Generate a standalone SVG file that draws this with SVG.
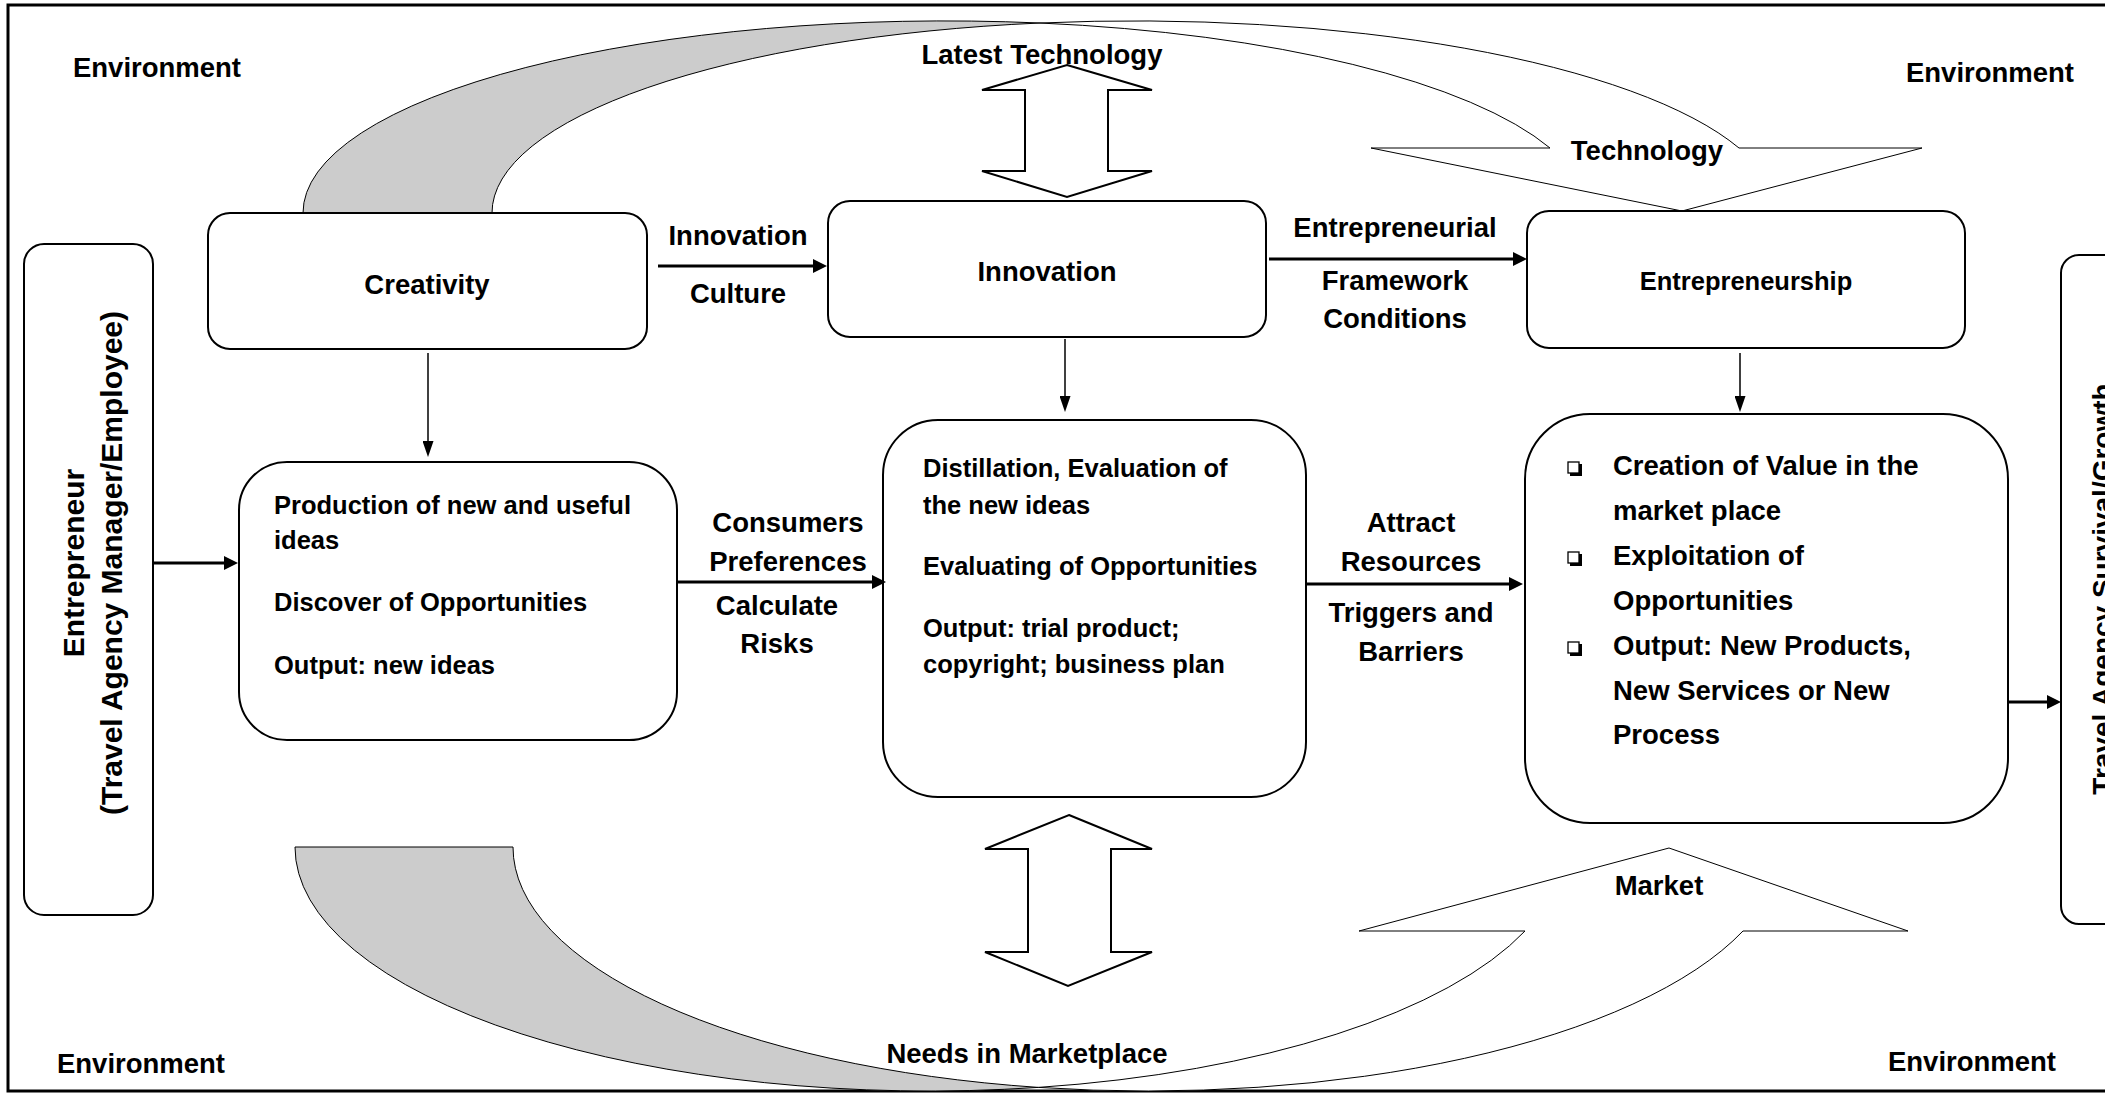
<svg xmlns="http://www.w3.org/2000/svg" width="2105" height="1093" viewBox="0 0 2105 1093">
  <defs>
    <style>
      .box { fill: #fff; stroke: #000; stroke-width: 2; }
      .t { font-family: "Liberation Sans", Arial, sans-serif; font-weight: bold; fill: #000; }
      .lbl { font-size: 27.5px; text-anchor: middle; }
      .body { font-size: 25.5px; }
      .big { font-size: 27.5px; }
      .vert { font-size: 30px; text-anchor: middle; }
      .back { fill: #cccccc; stroke: #000; stroke-width: 1; }
      .front { fill: #fff; stroke: #000; stroke-width: 1; }
      .dbl { fill: #fff; stroke: #000; stroke-width: 2; }
      .h { stroke: #000; stroke-width: 3; fill: none; marker-end: url(#ah); }
      .v { stroke: #000; stroke-width: 1.5; fill: none; marker-end: url(#av); }
      .bul { fill: #fff; stroke: #000; stroke-width: 1.3; }
    </style>
    <marker id="ah" markerUnits="userSpaceOnUse" markerWidth="14" markerHeight="14" refX="6" refY="7" orient="auto">
      <path d="M0,0 L14,7 L0,14 Z" fill="#000"/>
    </marker>
    <marker id="av" markerUnits="userSpaceOnUse" markerWidth="16" markerHeight="11" refX="6" refY="5.5" orient="auto">
      <path d="M0,0 L16,5.5 L0,11 Z" fill="#000"/>
    </marker>
  </defs>

  <rect width="2105" height="1093" fill="#fff"/>
  <!-- outer frame -->
  <rect x="8" y="5" width="2200" height="1086" fill="none" stroke="#000" stroke-width="3"/>

  <!-- curved ribbon arrow over the top: Creativity -> Technology -> Entrepreneurship -->
  <g id="technology-arrow">
    <path class="back" d="M303,213 A642.4,192 0 0 1 1040,23 A642.4,192 0 0 0 492,213 Z"/>
    <path class="front" d="M1040,23 A642.4,192 0 0 1 1739,148 L1922,148 L1682,211 L1371,148 L1550,148 A642.4,192 0 0 0 1040,23 Z"/>
    <text class="t lbl" x="1647" y="160">Technology</text>
  </g>

  <!-- curved ribbon arrow along the bottom: Market -->
  <g id="market-arrow">
    <path class="back" d="M295,847 A634.4,244 0 0 0 1038.4,1087.4 A634.4,244 0 0 1 513,847 Z"/>
    <path class="front" d="M1038.4,1087.4 A634.4,244 0 0 0 1525,931 L1359,931 L1669,848 L1908,931 L1743,931 A634.4,244 0 0 1 1038.4,1087.4 Z"/>
    <text class="t lbl" x="1659" y="895">Market</text>
  </g>

  <!-- double block arrows -->
  <g id="latest-technology">
    <polygon class="dbl" points="1067,65 1152,90 1108,90 1108,171 1152,171 1067,197 982,171 1025,171 1025,90 982,90"/>
    <text class="t lbl" x="1042" y="64">Latest Technology</text>
  </g>
  <g id="needs-in-marketplace">
    <polygon class="dbl" points="1069,815 1152,849 1111,849 1111,952 1152,952 1068,986 985,952 1028,952 1028,849 985,849"/>
    <text class="t lbl" x="1027" y="1063">Needs in Marketplace</text>
  </g>

  <!-- environment corner labels -->
  <g id="environment">
    <text class="t lbl" x="157" y="77">Environment</text>
    <text class="t lbl" x="1990" y="82">Environment</text>
    <text class="t lbl" x="141" y="1073">Environment</text>
    <text class="t lbl" x="1972" y="1071">Environment</text>
  </g>

  <!-- nodes -->
  <g id="entrepreneur">
    <rect class="box" x="24" y="244" width="129" height="671" rx="20"/>
    <text class="t vert" transform="translate(84,563) rotate(-90)">Entrepreneur</text>
    <text class="t vert" transform="translate(122,563) rotate(-90)">(Travel Agency Manager/Employee)</text>
  </g>

  <g id="creativity">
    <rect class="box" x="208" y="213" width="439" height="136" rx="22"/>
    <text class="t lbl" x="427" y="294">Creativity</text>
  </g>

  <g id="innovation">
    <rect class="box" x="828" y="201" width="438" height="136" rx="22"/>
    <text class="t lbl" x="1047" y="281">Innovation</text>
  </g>

  <g id="entrepreneurship">
    <rect class="box" x="1527" y="211" width="438" height="137" rx="22"/>
    <text class="t lbl" x="1746" y="290" style="font-size:25.5px">Entrepreneurship</text>
  </g>

  <g id="idea-generation">
    <rect class="box" x="239" y="462" width="438" height="278" rx="48"/>
    <text class="t body" x="274" y="514">Production of new and useful</text>
    <text class="t body" x="274" y="549">ideas</text>
    <text class="t body" x="274" y="611">Discover of Opportunities</text>
    <text class="t body" x="274" y="674">Output: new ideas</text>
  </g>

  <g id="idea-evaluation">
    <rect class="box" x="883" y="420" width="423" height="377" rx="55"/>
    <text class="t body" x="923" y="477">Distillation, Evaluation of</text>
    <text class="t body" x="923" y="514">the new ideas</text>
    <text class="t body" x="923" y="575">Evaluating of Opportunities</text>
    <text class="t body" x="923" y="637">Output: trial product;</text>
    <text class="t body" x="923" y="673">copyright; business plan</text>
  </g>

  <g id="value-creation">
    <rect class="box" x="1525" y="414" width="483" height="409" rx="65"/>
    <rect x="1570" y="464" width="12" height="12" fill="#000"/>
    <rect class="bul" x="1568" y="462" width="11" height="11"/>
    <rect x="1570" y="554" width="12" height="12" fill="#000"/>
    <rect class="bul" x="1568" y="552" width="11" height="11"/>
    <rect x="1570" y="644" width="12" height="12" fill="#000"/>
    <rect class="bul" x="1568" y="642" width="11" height="11"/>
    <text class="t big" x="1613" y="475">Creation of Value in the</text>
    <text class="t big" x="1613" y="520">market place</text>
    <text class="t big" x="1613" y="565">Exploitation of</text>
    <text class="t big" x="1613" y="610">Opportunities</text>
    <text class="t big" x="1613" y="655">Output: New Products,</text>
    <text class="t big" x="1613" y="700">New Services or New</text>
    <text class="t big" x="1613" y="744">Process</text>
  </g>

  <g id="survival-growth">
    <rect class="box" x="2061" y="255" width="140" height="669" rx="18"/>
    <text class="t vert" style="font-size:28px" transform="translate(2112,589) rotate(-90)">Travel Agency Survival/Growth</text>
  </g>

  <!-- connectors -->
  <g id="connectors">
    <line class="h" x1="153" y1="563" x2="230" y2="563"/>
    <line class="h" x1="658" y1="266" x2="819" y2="266"/>
    <line class="h" x1="1269" y1="259" x2="1519" y2="259"/>
    <line class="h" x1="677" y1="582" x2="878" y2="582"/>
    <line class="h" x1="1307" y1="584" x2="1515" y2="584"/>
    <line class="h" x1="2009" y1="702" x2="2053" y2="702"/>
    <line class="v" x1="428" y1="353" x2="428" y2="447"/>
    <line class="v" x1="1065" y1="339" x2="1065" y2="402"/>
    <line class="v" x1="1740" y1="353" x2="1740" y2="402"/>
  </g>

  <!-- connector labels -->
  <g id="connector-labels">
    <text class="t lbl" x="738" y="245">Innovation</text>
    <text class="t lbl" x="738" y="303">Culture</text>
    <text class="t lbl" x="1395" y="237">Entrepreneurial</text>
    <text class="t lbl" x="1395" y="290">Framework</text>
    <text class="t lbl" x="1395" y="328">Conditions</text>
    <text class="t lbl" x="788" y="532">Consumers</text>
    <text class="t lbl" x="788" y="571">Preferences</text>
    <text class="t lbl" x="777" y="615">Calculate</text>
    <text class="t lbl" x="777" y="653">Risks</text>
    <text class="t lbl" x="1411" y="532">Attract</text>
    <text class="t lbl" x="1411" y="571">Resources</text>
    <text class="t lbl" x="1411" y="622">Triggers and</text>
    <text class="t lbl" x="1411" y="661">Barriers</text>
  </g>
</svg>
